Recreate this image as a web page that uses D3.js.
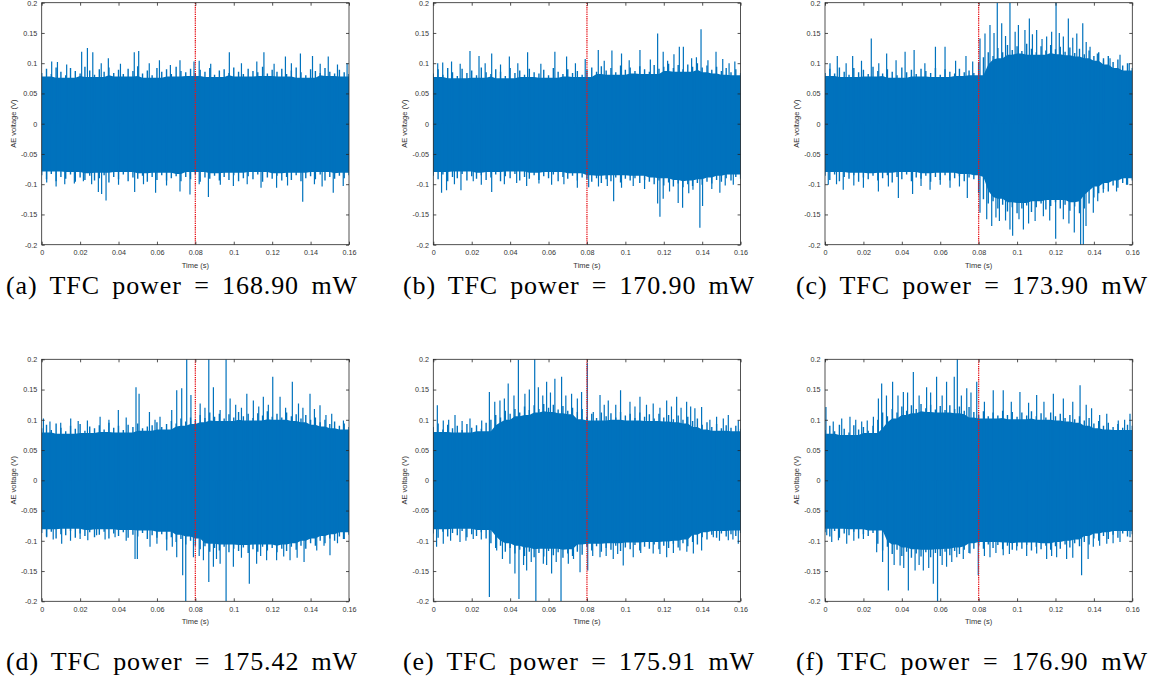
<!DOCTYPE html>
<html>
<head>
<meta charset="utf-8">
<script src="https://cdn.jsdelivr.net/npm/d3@7"></script>
<style>
  body { margin: 0; background: #fff; }
  svg { display: block; }
</style>
</head>
<body>
<div id="chart"></div>
<script>
// tick values and captions
const timeTicks = [0, 0.02, 0.04, 0.06, 0.08, 0.1, 0.12, 0.14, 0.16];
const voltTicks = [-0.2, -0.15, -0.1, -0.05, 0, 0.05, 0.1, 0.15, 0.2];
const markerTime = 0.08;
const captions = [
  "(a) TFC power = 168.90 mW", "(b) TFC power = 170.90 mW", "(c) TFC power = 173.90 mW",
  "(d) TFC power = 175.42 mW", "(e) TFC power = 175.91 mW", "(f) TFC power = 176.90 mW"
];

// envelope of the dense signal, read every 0.0025 s (upper and lower edge)
const upperA = [0.084,0.091,0.082,0.093,0.086,0.080,0.092,0.087,0.083,0.094,0.088,0.081,0.090,0.086,0.093,0.084,0.089,0.082,0.091,0.087,0.095,0.083,0.088,0.080,0.092,0.086,0.090,0.082,0.094,0.087,0.085,0.091,0.083,0.089,0.086,0.092,0.081,0.088,0.090,0.084,0.093,0.086,0.082,0.091,0.087,0.085,0.094,0.083,0.089,0.086,0.091,0.082,0.088,0.093,0.085,0.080,0.090,0.087,0.084,0.092,0.086,0.083,0.089,0.085,0.082];
const lowerA = [-0.085,-0.092,-0.083,-0.095,-0.088,-0.091,-0.084,-0.096,-0.089,-0.093,-0.086,-0.094,-0.090,-0.085,-0.097,-0.088,-0.092,-0.084,-0.095,-0.089,-0.091,-0.086,-0.096,-0.088,-0.093,-0.085,-0.094,-0.090,-0.087,-0.095,-0.088,-0.092,-0.084,-0.096,-0.089,-0.091,-0.086,-0.094,-0.088,-0.093,-0.085,-0.095,-0.090,-0.087,-0.092,-0.084,-0.096,-0.089,-0.091,-0.086,-0.094,-0.088,-0.093,-0.085,-0.095,-0.090,-0.087,-0.092,-0.084,-0.094,-0.088,-0.091,-0.086,-0.090,-0.085];
const upperB = [0.083,0.090,0.081,0.092,0.085,0.079,0.091,0.084,0.088,0.080,0.093,0.085,0.082,0.090,0.086,0.079,0.092,0.084,0.088,0.081,0.091,0.085,0.083,0.089,0.080,0.092,0.086,0.082,0.090,0.084,0.087,0.081,0.089,0.093,0.086,0.095,0.088,0.092,0.085,0.096,0.089,0.093,0.087,0.095,0.090,0.086,0.097,0.091,0.094,0.099,0.092,0.097,0.090,0.098,0.094,0.100,0.093,0.096,0.089,0.094,0.087,0.092,0.085,0.090,0.084];
const lowerB = [-0.086,-0.092,-0.084,-0.095,-0.088,-0.090,-0.083,-0.094,-0.087,-0.091,-0.085,-0.093,-0.089,-0.084,-0.095,-0.087,-0.090,-0.083,-0.094,-0.088,-0.091,-0.085,-0.093,-0.087,-0.090,-0.084,-0.095,-0.088,-0.091,-0.086,-0.094,-0.089,-0.092,-0.096,-0.090,-0.098,-0.092,-0.095,-0.089,-0.097,-0.091,-0.094,-0.090,-0.098,-0.093,-0.096,-0.100,-0.094,-0.102,-0.097,-0.104,-0.099,-0.105,-0.100,-0.103,-0.098,-0.101,-0.096,-0.099,-0.093,-0.096,-0.090,-0.094,-0.088,-0.091];
const upperC = [0.084,0.091,0.083,0.093,0.086,0.081,0.092,0.085,0.089,0.082,0.094,0.087,0.083,0.090,0.086,0.080,0.093,0.085,0.089,0.082,0.091,0.087,0.084,0.092,0.081,0.090,0.086,0.083,0.091,0.085,0.088,0.084,0.102,0.110,0.118,0.112,0.125,0.118,0.130,0.122,0.128,0.120,0.132,0.124,0.118,0.128,0.121,0.130,0.123,0.127,0.119,0.126,0.117,0.124,0.115,0.121,0.112,0.118,0.108,0.112,0.102,0.106,0.096,0.100,0.092];
const lowerC = [-0.086,-0.093,-0.084,-0.095,-0.088,-0.091,-0.085,-0.096,-0.089,-0.092,-0.086,-0.094,-0.090,-0.085,-0.097,-0.088,-0.092,-0.084,-0.095,-0.089,-0.091,-0.086,-0.096,-0.088,-0.093,-0.085,-0.094,-0.090,-0.087,-0.095,-0.089,-0.092,-0.115,-0.125,-0.132,-0.128,-0.140,-0.134,-0.145,-0.138,-0.148,-0.140,-0.135,-0.146,-0.138,-0.132,-0.142,-0.136,-0.130,-0.140,-0.134,-0.144,-0.137,-0.148,-0.140,-0.132,-0.122,-0.115,-0.108,-0.112,-0.102,-0.106,-0.098,-0.101,-0.094];
const upperD = [0.086,0.092,0.083,0.094,0.087,0.081,0.090,0.085,0.093,0.082,0.089,0.086,0.091,0.084,0.095,0.087,0.090,0.083,0.092,0.088,0.094,0.086,0.089,0.091,0.096,0.088,0.093,0.098,0.094,0.102,0.097,0.104,0.100,0.108,0.103,0.112,0.105,0.110,0.102,0.109,0.104,0.113,0.106,0.110,0.103,0.111,0.107,0.114,0.105,0.110,0.104,0.112,0.106,0.109,0.102,0.108,0.100,0.104,0.096,0.100,0.093,0.097,0.090,0.094,0.088];
const lowerD = [-0.087,-0.093,-0.085,-0.096,-0.089,-0.091,-0.084,-0.095,-0.088,-0.092,-0.086,-0.094,-0.090,-0.085,-0.096,-0.088,-0.092,-0.086,-0.095,-0.090,-0.093,-0.087,-0.097,-0.091,-0.095,-0.089,-0.098,-0.094,-0.102,-0.097,-0.106,-0.100,-0.108,-0.114,-0.109,-0.118,-0.112,-0.116,-0.110,-0.119,-0.113,-0.117,-0.111,-0.120,-0.114,-0.118,-0.110,-0.116,-0.112,-0.119,-0.113,-0.117,-0.110,-0.115,-0.108,-0.113,-0.104,-0.108,-0.100,-0.104,-0.096,-0.100,-0.093,-0.097,-0.090];
const upperE = [0.088,0.094,0.084,0.092,0.086,0.090,0.083,0.093,0.087,0.091,0.085,0.095,0.100,0.108,0.104,0.115,0.110,0.118,0.112,0.122,0.116,0.124,0.118,0.126,0.120,0.125,0.117,0.123,0.115,0.120,0.113,0.118,0.105,0.110,0.103,0.112,0.106,0.111,0.104,0.113,0.107,0.110,0.103,0.112,0.105,0.109,0.102,0.110,0.104,0.108,0.101,0.107,0.100,0.105,0.098,0.102,0.092,0.096,0.088,0.093,0.086,0.091,0.087,0.090,0.085];
const lowerE = [-0.088,-0.095,-0.085,-0.093,-0.087,-0.091,-0.084,-0.094,-0.089,-0.092,-0.086,-0.096,-0.104,-0.112,-0.108,-0.118,-0.112,-0.121,-0.115,-0.125,-0.118,-0.127,-0.120,-0.126,-0.117,-0.124,-0.119,-0.128,-0.121,-0.125,-0.118,-0.123,-0.110,-0.116,-0.109,-0.118,-0.112,-0.115,-0.108,-0.117,-0.111,-0.114,-0.107,-0.116,-0.110,-0.113,-0.106,-0.114,-0.108,-0.112,-0.105,-0.111,-0.104,-0.109,-0.102,-0.106,-0.094,-0.098,-0.090,-0.095,-0.088,-0.093,-0.089,-0.092,-0.087];
const upperF = [0.083,0.090,0.081,0.092,0.085,0.079,0.091,0.084,0.088,0.082,0.090,0.100,0.112,0.106,0.118,0.112,0.122,0.115,0.124,0.118,0.126,0.119,0.125,0.117,0.123,0.116,0.124,0.118,0.122,0.115,0.121,0.113,0.108,0.114,0.106,0.112,0.107,0.115,0.108,0.113,0.105,0.112,0.107,0.114,0.106,0.111,0.104,0.112,0.106,0.110,0.103,0.108,0.101,0.106,0.099,0.103,0.094,0.098,0.090,0.095,0.088,0.093,0.087,0.092,0.090];
const lowerF = [-0.086,-0.093,-0.084,-0.095,-0.088,-0.091,-0.085,-0.096,-0.089,-0.092,-0.087,-0.105,-0.116,-0.110,-0.122,-0.115,-0.125,-0.118,-0.128,-0.121,-0.126,-0.119,-0.127,-0.120,-0.125,-0.118,-0.124,-0.117,-0.122,-0.115,-0.120,-0.113,-0.108,-0.113,-0.106,-0.112,-0.107,-0.114,-0.108,-0.115,-0.109,-0.113,-0.107,-0.116,-0.110,-0.114,-0.108,-0.115,-0.109,-0.113,-0.106,-0.111,-0.104,-0.109,-0.102,-0.106,-0.096,-0.100,-0.092,-0.097,-0.090,-0.095,-0.088,-0.093,-0.089];

// individual peaks sticking out of the envelope: [time (s), voltage (V)]
const peaksA = [[0.0052,0.103],[0.0082,0.102],[0.0208,0.119],[0.0238,0.125],[0.0266,0.118],[0.0347,0.108],[0.0482,0.118],[0.0505,0.12],[0.0613,0.105],[0.072,0.105],[0.0793,0.103],[0.082,0.104],[0.0977,0.118],[0.112,0.103],[0.1157,0.118],[0.1269,0.111],[0.1347,0.116],[0.141,0.112],[0.1492,0.111],[0.159,0.1],
  [0.013,0.098],[0.031,0.1],[0.041,0.099],[0.056,0.1],[0.067,0.097],[0.088,0.099],[0.104,0.1],[0.121,0.099],[0.13,0.1],[0.145,0.099],[0.154,0.098],
  [0.0026,-0.097],[0.0075,-0.104],[0.0217,-0.095],[0.0295,-0.113],[0.0312,-0.116],[0.0335,-0.127],[0.0484,-0.113],[0.0593,-0.114],[0.072,-0.112],[0.0772,-0.117],[0.0868,-0.121],[0.0998,-0.103],[0.1142,-0.106],[0.1223,-0.106],[0.1359,-0.129],[0.1518,-0.114],[0.157,-0.103],
  [0.012,-0.1],[0.017,-0.099],[0.026,-0.1],[0.04,-0.101],[0.053,-0.1],[0.065,-0.102],[0.082,-0.1],[0.093,-0.101],[0.107,-0.1],[0.128,-0.102],[0.142,-0.1],[0.146,-0.104]];
const peaksB = [[0.0023,0.1],[0.0049,0.101],[0.0095,0.103],[0.0191,0.12],[0.0238,0.112],[0.0304,0.116],[0.0396,0.111],[0.0491,0.118],[0.0633,0.119],[0.0694,0.111],[0.0791,0.107],[0.0859,0.122],[0.093,0.121],[0.098,0.116],[0.1076,0.122],[0.1168,0.149],[0.1197,0.119],[0.1253,0.115],[0.1281,0.127],[0.1302,0.127],[0.1345,0.108],[0.1394,0.156],[0.1472,0.119],[0.1507,0.107],[0.157,0.103],
  [0.014,0.099],[0.027,0.1],[0.035,0.098],[0.044,0.1],[0.056,0.099],[0.074,0.1],[0.089,0.104],[0.102,0.105],[0.113,0.106],[0.122,0.104],[0.137,0.11],[0.143,0.105],[0.154,0.1],
  [0.0043,-0.114],[0.0069,-0.11],[0.0144,-0.11],[0.0208,-0.095],[0.0304,-0.113],[0.0434,-0.098],[0.0486,-0.103],[0.0616,-0.101],[0.075,-0.106],[0.0809,-0.105],[0.0906,-0.103],[0.0939,-0.128],[0.1041,-0.103],[0.1168,-0.132],[0.118,-0.154],[0.1197,-0.124],[0.1275,-0.131],[0.1298,-0.139],[0.1352,-0.109],[0.1388,-0.172],[0.1402,-0.136],[0.1492,-0.114],[0.1562,-0.101],
  [0.011,-0.1],[0.025,-0.101],[0.037,-0.1],[0.055,-0.099],[0.068,-0.1],[0.086,-0.104],[0.098,-0.106],[0.11,-0.108],[0.123,-0.112],[0.133,-0.115],[0.145,-0.108],[0.152,-0.102]];
const peaksC = [[0.0026,0.1],[0.0064,0.112],[0.0144,0.112],[0.0241,0.141],[0.0321,0.116],[0.0417,0.119],[0.0464,0.122],[0.0575,0.127],[0.0625,0.127],[0.0734,0.112],[0.0769,0.103],[0.0807,0.141],[0.0833,0.149],[0.0859,0.163],[0.0897,0.2],[0.092,0.166],[0.0963,0.2],[0.1007,0.163],[0.1041,0.155],[0.1064,0.174],[0.1102,0.155],[0.1154,0.144],[0.118,0.152],[0.1203,0.2],[0.1241,0.144],[0.1267,0.174],[0.1311,0.149],[0.1342,0.166],[0.138,0.127],[0.1418,0.116],[0.1484,0.108],[0.1536,0.114],[0.1584,0.1],
  [0.011,0.1],[0.019,0.104],[0.028,0.1],[0.037,0.105],[0.052,0.1],[0.068,0.104],[0.088,0.15],[0.094,0.145],[0.099,0.152],[0.108,0.148],[0.113,0.14],[0.122,0.15],[0.129,0.142],[0.136,0.135],[0.145,0.105],
  [0.0017,-0.101],[0.0095,-0.109],[0.02,-0.106],[0.0278,-0.112],[0.0382,-0.123],[0.0456,-0.116],[0.0547,-0.109],[0.0651,-0.106],[0.0741,-0.123],[0.0807,-0.147],[0.0842,-0.158],[0.0868,-0.169],[0.0908,-0.161],[0.0963,-0.175],[0.0977,-0.185],[0.1033,-0.175],[0.1094,-0.161],[0.1137,-0.153],[0.1201,-0.19],[0.1241,-0.158],[0.1298,-0.18],[0.1331,-0.2],[0.1345,-0.2],[0.1359,-0.169],[0.1397,-0.147],[0.1449,-0.114],[0.1518,-0.112],[0.157,-0.101],
  [0.006,-0.1],[0.015,-0.102],[0.033,-0.104],[0.05,-0.103],[0.06,-0.101],[0.07,-0.104],[0.089,-0.155],[0.094,-0.16],[0.101,-0.158],[0.106,-0.165],[0.117,-0.16],[0.127,-0.165],[0.142,-0.128]];
const peaksD = [[0.0009,0.102],[0.0043,0.097],[0.0099,0.095],[0.0151,0.102],[0.0238,0.099],[0.0304,0.105],[0.0399,0.116],[0.0491,0.154],[0.0507,0.143],[0.0561,0.113],[0.0616,0.105],[0.0677,0.116],[0.0703,0.149],[0.0729,0.152],[0.0755,0.2],[0.0777,0.141],[0.0825,0.127],[0.087,0.2],[0.0894,0.154],[0.0929,0.116],[0.096,0.2],[0.0981,0.135],[0.1068,0.143],[0.1102,0.132],[0.1154,0.138],[0.1203,0.171],[0.1241,0.138],[0.1305,0.163],[0.1337,0.127],[0.1397,0.143],[0.1449,0.124],[0.151,0.11],[0.1571,0.099],
  [0.019,0.098],[0.035,0.1],[0.044,0.104],[0.059,0.1],[0.085,0.12],[0.101,0.125],[0.104,0.12],[0.113,0.122],[0.118,0.125],[0.127,0.12],[0.136,0.12],[0.142,0.118],[0.148,0.108],
  [0.0026,-0.094],[0.0104,-0.105],[0.02,-0.097],[0.0286,-0.091],[0.0382,-0.094],[0.0486,-0.13],[0.0498,-0.13],[0.0564,-0.11],[0.0651,-0.116],[0.0703,-0.127],[0.0734,-0.157],[0.075,-0.2],[0.079,-0.127],[0.0842,-0.132],[0.087,-0.168],[0.0894,-0.143],[0.0929,-0.138],[0.096,-0.2],[0.0998,-0.143],[0.1081,-0.171],[0.1119,-0.138],[0.1171,-0.132],[0.1223,-0.132],[0.1293,-0.132],[0.1366,-0.135],[0.1432,-0.116],[0.1501,-0.124],[0.1571,-0.097],
  [0.006,-0.098],[0.015,-0.1],[0.024,-0.099],[0.033,-0.098],[0.044,-0.1],[0.06,-0.105],[0.068,-0.11],[0.082,-0.125],[0.091,-0.13],[0.104,-0.128],[0.114,-0.125],[0.126,-0.126],[0.133,-0.128],[0.147,-0.108],[0.154,-0.104]];
const peaksE = [[0.0021,0.124],[0.0052,0.099],[0.0113,0.108],[0.0191,0.102],[0.0252,0.099],[0.0292,0.146],[0.0347,0.132],[0.039,0.16],[0.0443,0.199],[0.0477,0.143],[0.0528,0.2],[0.0547,0.154],[0.059,0.163],[0.0633,0.168],[0.0668,0.171],[0.072,0.143],[0.0772,0.146],[0.0802,0.194],[0.0833,0.113],[0.0868,0.141],[0.0911,0.132],[0.0975,0.149],[0.1024,0.13],[0.1076,0.138],[0.1145,0.127],[0.1215,0.132],[0.1267,0.138],[0.1319,0.13],[0.1362,0.119],[0.1397,0.121],[0.1475,0.105],[0.1536,0.108],[0.1588,0.099],
  [0.008,0.1],[0.015,0.098],[0.032,0.13],[0.037,0.135],[0.042,0.14],[0.05,0.15],[0.057,0.14],[0.061,0.145],[0.069,0.14],[0.075,0.135],[0.089,0.125],[0.095,0.125],[0.105,0.122],[0.111,0.125],[0.118,0.12],[0.124,0.122],[0.129,0.12],[0.134,0.122],[0.144,0.1],[0.151,0.102],
  [0.0017,-0.11],[0.0052,-0.105],[0.0139,-0.102],[0.0208,-0.097],[0.0292,-0.193],[0.033,-0.116],[0.0399,-0.138],[0.0425,-0.154],[0.0446,-0.196],[0.0486,-0.149],[0.0534,-0.2],[0.0573,-0.138],[0.0616,-0.154],[0.0665,-0.2],[0.0703,-0.138],[0.0764,-0.152],[0.0804,-0.149],[0.0868,-0.127],[0.0937,-0.13],[0.0989,-0.141],[0.1041,-0.127],[0.1145,-0.121],[0.1215,-0.127],[0.1284,-0.116],[0.1354,-0.121],[0.1397,-0.116],[0.1458,-0.094],[0.1536,-0.099],[0.1588,-0.105],
  [0.009,-0.1],[0.017,-0.1],[0.025,-0.098],[0.036,-0.13],[0.047,-0.14],[0.051,-0.135],[0.059,-0.14],[0.064,-0.135],[0.073,-0.13],[0.083,-0.125],[0.09,-0.125],[0.096,-0.122],[0.108,-0.12],[0.118,-0.122],[0.125,-0.12],[0.132,-0.118],[0.149,-0.1],[0.156,-0.098]];
const peaksF = [[0.0005,0.121],[0.0043,0.097],[0.0087,0.102],[0.013,0.105],[0.0191,0.097],[0.0252,0.105],[0.0278,0.135],[0.0295,0.16],[0.0352,0.163],[0.0408,0.146],[0.046,0.179],[0.0529,0.154],[0.0581,0.171],[0.0633,0.163],[0.0673,0.171],[0.0689,0.2],[0.0738,0.152],[0.079,0.163],[0.0876,0.149],[0.0928,0.149],[0.1015,0.146],[0.1102,0.141],[0.1189,0.143],[0.1241,0.135],[0.1328,0.157],[0.1388,0.119],[0.1467,0.11],[0.1527,0.099],[0.1588,0.11],
  [0.016,0.1],[0.022,0.099],[0.032,0.14],[0.038,0.14],[0.043,0.145],[0.049,0.14],[0.055,0.145],[0.061,0.14],[0.071,0.14],[0.076,0.145],[0.083,0.13],[0.097,0.13],[0.106,0.128],[0.114,0.13],[0.129,0.13],[0.136,0.125],[0.143,0.108],[0.156,0.1],
  [0.0009,-0.091],[0.0035,-0.102],[0.0113,-0.105],[0.02,-0.097],[0.0269,-0.119],[0.033,-0.182],[0.0391,-0.141],[0.0434,-0.182],[0.0469,-0.149],[0.0512,-0.149],[0.0564,-0.171],[0.0586,-0.2],[0.0633,-0.143],[0.0686,-0.127],[0.0755,-0.121],[0.0798,-0.157],[0.0859,-0.127],[0.0928,-0.124],[0.0998,-0.116],[0.1102,-0.121],[0.1154,-0.13],[0.1206,-0.127],[0.1258,-0.13],[0.1336,-0.157],[0.1397,-0.11],[0.1467,-0.105],[0.1536,-0.102],[0.1588,-0.094],
  [0.007,-0.099],[0.015,-0.1],[0.03,-0.135],[0.036,-0.14],[0.041,-0.145],[0.049,-0.14],[0.054,-0.145],[0.061,-0.14],[0.066,-0.135],[0.072,-0.13],[0.083,-0.125],[0.089,-0.12],[0.096,-0.122],[0.105,-0.125],[0.118,-0.125],[0.129,-0.128],[0.137,-0.13],[0.143,-0.108],[0.15,-0.104]];

const panels = [
  { upper: upperA, lower: lowerA, peaks: peaksA },
  { upper: upperB, lower: lowerB, peaks: peaksB },
  { upper: upperC, lower: lowerC, peaks: peaksC },
  { upper: upperD, lower: lowerD, peaks: peaksD },
  { upper: upperE, lower: lowerE, peaks: peaksE },
  { upper: upperF, lower: lowerF, peaks: peaksF }
];

const W = 1149, H = 683;
const colLeft = [41.7, 433.3, 825];
const rowTop = [2.7, 359.3];
const captionX = [182, 579, 972];
const captionY = [294, 670];
const pw = 307.3, ph = 242;
const blue = "#0072bd", axisColor = "#262626";

const svg = d3.select("#chart").append("svg")
  .attr("width", W)
  .attr("height", H);

const x = d3.scaleLinear().domain([0, 0.16]).range([0, pw]);
const y = d3.scaleLinear().domain([-0.2, 0.2]).range([ph, 0]);

panels.forEach((p, k) => {
  const col = k % 3, row = Math.floor(k / 3);
  const g = svg.append("g")
    .attr("transform", `translate(${colLeft[col]},${rowTop[row]})`);

  g.append("clipPath").attr("id", "clip" + k)
    .append("rect").attr("width", pw).attr("height", ph);

  const plot = g.append("g").attr("clip-path", `url(#clip${k})`);

  const n = p.upper.length;
  const step = 0.16 / (n - 1);
  // solid core sits a little under the lowest nearby edge value, the rest shows as hairs
  const env = p.upper.map((u, i) => {
    const lo = Math.max(0, i - 2), hi = Math.min(n - 1, i + 2);
    return {
      t: i * step, u: u, l: p.lower[i],
      cu: d3.min(p.upper.slice(lo, hi + 1)) - 0.004,
      cl: d3.max(p.lower.slice(lo, hi + 1)) + 0.004
    };
  });

  const area = d3.area()
    .x(d => x(d.t))
    .y0(d => y(d.cl))
    .y1(d => y(d.cu));

  plot.append("path")
    .datum(env)
    .attr("fill", blue)
    .attr("d", area);

  plot.selectAll(".hair")
    .data(env)
    .enter().append("line")
    .attr("class", "hair")
    .attr("x1", d => x(d.t))
    .attr("x2", d => x(d.t))
    .attr("y1", d => y(d.l))
    .attr("y2", d => y(d.u))
    .attr("stroke", blue)
    .attr("stroke-width", 1.4);

  plot.selectAll(".peak")
    .data(p.peaks)
    .enter().append("line")
    .attr("class", "peak")
    .attr("x1", d => x(d[0]))
    .attr("x2", d => x(d[0]))
    .attr("y1", y(0))
    .attr("y2", d => y(d[1]))
    .attr("stroke", blue)
    .attr("stroke-width", 1.2);

  // dotted marker at 0.08 s
  plot.append("line")
    .attr("x1", x(markerTime)).attr("x2", x(markerTime))
    .attr("y1", 0).attr("y2", ph)
    .attr("stroke", "#e8141a")
    .attr("stroke-width", 1.3)
    .attr("stroke-dasharray", "1.3 0.9");

  // axes, ticks pointing inwards on all four sides
  const fmt = d => String(d);
  const styleAxis = sel => {
    sel.select(".domain").remove();
    sel.selectAll(".tick line").attr("stroke", axisColor).attr("stroke-width", 0.8);
    sel.selectAll(".tick text")
      .attr("fill", "#333")
      .style("font-family", "'Liberation Sans', Arial, sans-serif")
      .style("font-size", "7.2px");
  };

  g.append("g")
    .attr("transform", `translate(0,${ph})`)
    .call(d3.axisBottom(x).tickValues(timeTicks).tickFormat(fmt).tickSize(-3).tickPadding(5.5))
    .call(styleAxis);
  g.append("g")
    .call(d3.axisTop(x).tickValues(timeTicks).tickFormat("").tickSize(-3))
    .call(styleAxis);
  g.append("g")
    .call(d3.axisLeft(y).tickValues(voltTicks).tickFormat(fmt).tickSize(-3).tickPadding(4.4))
    .call(styleAxis);
  g.append("g")
    .attr("transform", `translate(${pw},0)`)
    .call(d3.axisRight(y).tickValues(voltTicks).tickFormat("").tickSize(-3))
    .call(styleAxis);

  g.append("rect")
    .attr("width", pw).attr("height", ph)
    .attr("fill", "none")
    .attr("stroke", axisColor)
    .attr("stroke-width", 0.8);

  g.append("text")
    .attr("transform", `translate(-28.4,${ph / 2}) rotate(-90)`)
    .attr("text-anchor", "middle")
    .attr("dominant-baseline", "central")
    .attr("fill", "#333")
    .style("font-family", "'Liberation Sans', Arial, sans-serif")
    .style("font-size", "7.5px")
    .text("AE voltage (V)");

  g.append("text")
    .attr("x", pw / 2)
    .attr("y", ph + 23)
    .attr("text-anchor", "middle")
    .attr("fill", "#333")
    .style("font-family", "'Liberation Sans', Arial, sans-serif")
    .style("font-size", "7.5px")
    .text("Time (s)");

  // sub-figure caption
  const cap = svg.append("text")
    .attr("x", captionX[col])
    .attr("y", captionY[row])
    .attr("text-anchor", "middle")
    .attr("fill", "#000")
    .style("font-family", "'Liberation Serif', 'Times New Roman', serif")
    .style("font-size", "26px")
    .style("letter-spacing", "0.9px")
    .text(captions[k]);
  const len = cap.node().getComputedTextLength();
  const extra = Math.max(0, (352 - len) / 5);
  cap.style("word-spacing", extra + "px");
});
</script>
</body>
</html>
